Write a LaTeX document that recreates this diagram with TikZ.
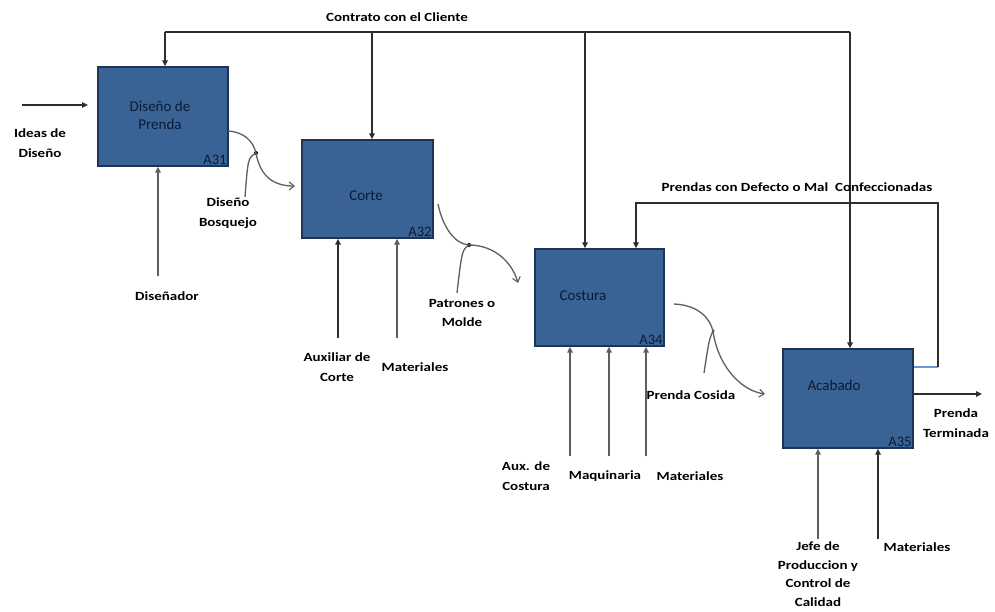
\documentclass[tikz,border=0pt]{standalone}
\usepackage{fontspec}
\setmainfont{Carlito}
\newfontfamily\lblfont[FakeStretch=1.2]{Carlito Bold}
\usetikzlibrary{arrows.meta,calc}
\definecolor{boxfill}{HTML}{3A6395}
\definecolor{boxline}{HTML}{1E3355}
\definecolor{boxtext}{HTML}{0B1A33}
\definecolor{darkln}{HTML}{2E2E2E}
\definecolor{greyln}{HTML}{5E5E5E}
\definecolor{linkblue}{HTML}{6A97D6}
\tikzset{
  actbox/.style={draw=boxline,line width=1.4pt,fill=boxfill,inner sep=0pt},
  acttitle/.style={font=\fontsize{15}{18}\selectfont,text=boxtext,align=center},
  actcode/.style={font=\fontsize{14.5}{16}\selectfont,text=boxtext,anchor=south east,inner sep=2pt},
  lbl/.style={font=\lblfont\fontsize{12.5}{19.5}\selectfont,align=center,inner sep=0pt},
  arr/.style={line width=1.6pt,draw=darkln,-{Triangle[length=6pt,width=5.5pt]}},
  garr/.style={line width=1.6pt,draw=greyln,-{Triangle[length=6pt,width=5.5pt]}},
  flow/.style={line width=1.3pt,draw=greyln},
  flowarr/.style={flow,-{Straight Barb[length=5pt,width=8pt,line width=1.1pt]}},
  junction/.style={circle,fill=black,inner sep=0pt,minimum size=4pt}
}
\begin{document}
\begin{tikzpicture}[x=1pt,y=-1pt]
\useasboundingbox (0,0) rectangle (995,611);

% activity boxes
\node[actbox,minimum width=130pt,minimum height=99pt] (a31) at (163,116.5) {};
\node[actbox,minimum width=131pt,minimum height=98pt] (a32) at (367.5,189) {};
\node[actbox,minimum width=129pt,minimum height=97pt] (a34) at (599.5,297.5) {};
\node[actbox,minimum width=130pt,minimum height=99pt] (a35) at (848,398.5) {};

\node[acttitle] (t31) at (160,115) {Diseño de\\Prenda};
\node[acttitle] (t32) at (366,196) {Corte};
\node[acttitle] (t34) at (583,296) {Costura};
\node[acttitle] (t35) at (834,385) {Acabado};

\node[actcode] (k31) at (a31.south east) {A31};
\node[actcode] (k32) at (a32.south east) {A32};
\node[actcode] (k34) at (a34.south east) {A34};
\node[actcode] (k35) at (a35.south east) {A35};

% control: client contract
\node[lbl] (lcontrato) at (397,17) {Contrato con el Cliente};
\coordinate (cc1) at (165,32);
\coordinate (cc2) at (372,32);
\coordinate (cc3) at (585,32);
\coordinate (cc4) at (850,32);
\draw[line width=1.6pt,draw=darkln] (cc1) -- (cc4);
\draw[arr] (cc1) -- (cc1 |- a31.north);
\draw[arr] (cc2) -- (cc2 |- a32.north);
\draw[arr] (cc3) -- (cc3 |- a34.north);
\draw[arr] (cc4) -- (cc4 |- a35.north);

% feedback: rejected garments
\node[lbl] (ldefecto) at (797,187) {Prendas con Defecto o Mal\ \ Confeccionadas};
\coordinate (fb0) at (913,367);
\coordinate (fb1) at (938,367);
\coordinate (fb2) at (938,203);
\coordinate (fb3) at (636,203);
\draw[line width=1.6pt,draw=linkblue] (a35.east |- fb0) -- (fb1);
\draw[arr] (fb1) -- (fb2) -- (fb3) -- (fb3 |- a34.north);

% A31 input and mechanism
\node[lbl] (lideas) at (40,143) {Ideas de\\Diseño};
\coordinate (in31) at (22,105);
\draw[arr] (in31) -- (88,105);
\node[lbl] (ldisenador) at (167,296) {Diseñador};
\coordinate (m31) at (158,276);
\draw[garr] (m31) -- (m31 |- a31.south);

% A31 -> A32 : sketch
\coordinate (o31) at (228,131);
\node[junction] (j1) at (256,153) {};
\coordinate (b1) at (245,197);
\coordinate (e1) at (295,186);
\draw[flow] (o31) .. controls (244,132) and (253,141) .. (j1.center);
\draw[flowarr] (j1.center) .. controls (260,175) and (272,186) .. (e1);
\draw[flow] (j1.center) .. controls (248,158) .. (b1);
\node[lbl] (lbosquejo) at (228,213) {Diseño\\Bosquejo};

% A32 mechanisms
\coordinate (m32a) at (338,338);
\coordinate (m32b) at (397,338);
\draw[arr] (m32a) -- (m32a |- a32.south);
\draw[garr] (m32b) -- (m32b |- a32.south);
\node[lbl] (laux) at (337,367) {Auxiliar de\\Corte};
\node[lbl] (lmat32) at (415,367) {Materiales};

% A32 -> A34 : patterns
\coordinate (o32) at (438,204);
\node[junction] (j2) at (469,245) {};
\coordinate (b2) at (457,293);
\coordinate (e2) at (518,283);
\draw[flow] (o32) .. controls (443,228) and (455,244) .. (j2.center);
\draw[flowarr] (j2.center) .. controls (494,245) and (512,262) .. (e2);
\draw[flow] (j2.center) .. controls (462,250) .. (b2);
\node[lbl] (lpatrones) at (462,313) {Patrones o\\Molde};

% A34 mechanisms
\coordinate (m34a) at (570,456);
\coordinate (m34b) at (609,456);
\coordinate (m34c) at (646,456);
\draw[garr] (m34a) -- (m34a |- a34.south);
\draw[garr] (m34b) -- (m34b |- a34.south);
\draw[garr] (m34c) -- (m34c |- a34.south);
\node[lbl] (lauxc) at (526,476) {Aux. de\\Costura};
\node[lbl] (lmaq) at (605,476) {Maquinaria};
\node[lbl] (lmat34) at (690,476) {Materiales};

% A34 -> A35 : sewn garment
\coordinate (o34) at (674,304);
\node[junction,minimum size=3pt] (j3) at (713,331) {};
\coordinate (b3) at (704,373);
\coordinate (e3) at (765,394);
\draw[flow] (o34) .. controls (698,305) and (710,318) .. (j3.center);
\draw[flowarr] (j3.center) .. controls (717,362) and (738,390) .. (e3);
\draw[flow] (j3.center) .. controls (709,340) .. (b3);
\node[lbl] (lcosida) at (691,395) {Prenda Cosida};

% A35 output
\coordinate (out35) at (982,394);
\draw[arr] (a35.east |- out35) -- (out35);
\node[lbl] (lterminada) at (956,423) {Prenda\\Terminada};

% A35 mechanisms
\coordinate (m35a) at (818,539);
\coordinate (m35b) at (878,539);
\draw[garr] (m35a) -- (m35a |- a35.south);
\draw[arr] (m35b) -- (m35b |- a35.south);
\node[lbl,font=\lblfont\fontsize{12.5}{18.5}\selectfont] (ljefe) at (818,574) {Jefe de\\Produccion y\\Control de\\Calidad};
\node[lbl] (lmat35) at (917,547) {Materiales};
\end{tikzpicture}
\end{document}
